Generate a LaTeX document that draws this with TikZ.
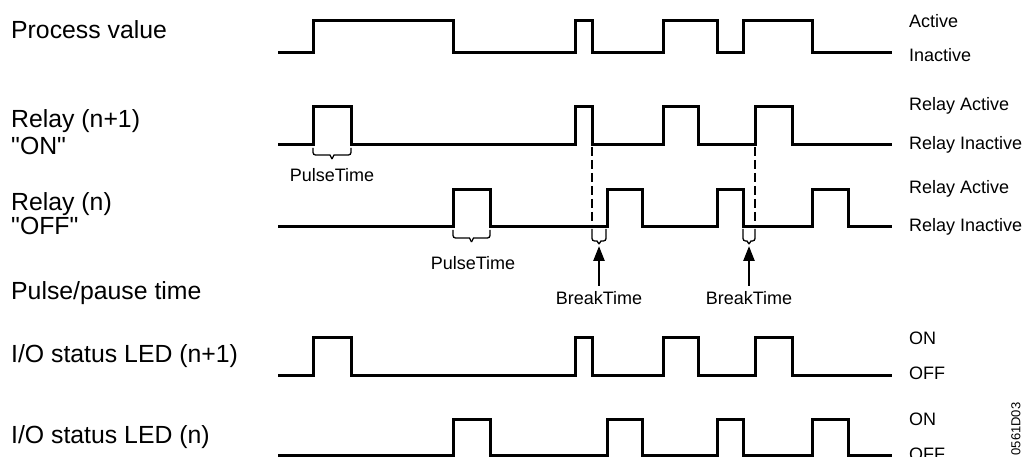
\documentclass[tikz,border=0pt]{standalone}
\usepackage{fontspec}
\setmainfont{Liberation Sans}[Ligatures=TeXOff]
\usetikzlibrary{arrows.meta}
\newcommand{\mybrace}[5]{% x1 x2 ytop ybot ytip
  \draw[bracestyle] (#1,#3) -- (#1,#4-2.5) to[out=-90,in=180] (#1+2.5,#4) -- ({(#1+#2)/2-2},#4) -- ({(#1+#2)/2},#5);
  \draw[bracestyle] (#2,#3) -- (#2,#4-2.5) to[out=-90,in=0] (#2-2.5,#4) -- ({(#1+#2)/2+2},#4) -- ({(#1+#2)/2},#5);
}
\begin{document}
\begin{tikzpicture}[x=1pt,y=-1pt,
  wave/.style={line width=3pt, line join=miter},
  dashline/.style={line width=2pt, dash pattern=on 9pt off 4pt},
  bracestyle/.style={line width=1.3pt},
  barrow/.style={line width=2.5pt, -{Triangle[length=15pt,width=11pt]}},
  leftlab/.style={anchor=west, inner sep=0pt, font=\fontsize{24.8}{27}\selectfont},
  rightlab/.style={anchor=west, inner sep=0pt, font=\fontsize{18}{20}\selectfont},
  smalllab/.style={inner sep=0pt, font=\fontsize{18}{20}\selectfont}]
\useasboundingbox (0,0) rectangle (1026,457);

% left labels
\node[leftlab] (lpv) at (11,30) {Process value};
\node[leftlab] (lr1) at (11,121) {Relay (n+1)};
\node[leftlab] (lr1b) at (11,146) {"ON"};
\node[leftlab] (lr0) at (11,204) {Relay (n)};
\node[leftlab] (lr0b) at (11,226) {"OFF"};
\node[leftlab] (lpp) at (11,293) {Pulse/pause time};
\node[leftlab] (lled1) at (11,356) {I/O status LED (n+1)};
\node[leftlab] (lled0) at (11,437) {I/O status LED (n)};

% right labels
\node[rightlab] (ra1) at (909,21) {Active};
\node[rightlab] (ri1) at (909,55) {Inactive};
\node[rightlab] (ra2) at (909,106) {Relay Active};
\node[rightlab] (ri2) at (909,145) {Relay Inactive};
\node[rightlab] (ra3) at (909,189) {Relay Active};
\node[rightlab] (ri3) at (909,227) {Relay Inactive};
\node[rightlab] (ron1) at (909,338) {ON};
\node[rightlab] (roff1) at (909,373) {OFF};
\node[rightlab] (ron0) at (909,419) {ON};
\node[rightlab] (roff0) at (909,454) {OFF};
\node[rotate=90, inner sep=0pt, font=\fontsize{13}{14}\selectfont] (code) at (1016,429) {0561D03};

% waveforms
\draw[wave] (278,53) -| (313,21) -| (453,53) -| (575,21) -| (592,53) -| (663,21) -| (717,53) -| (743,21) -| (812,53) -- (892,53);
\draw[wave] (278,145) -| (313,107) -| (351,145) -| (575,107) -| (592,145) -| (663,107) -| (698,145) -| (755,107) -| (792,145) -- (892,145);
\draw[wave] (278,227) -| (453,190) -| (490,227) -| (607,190) -| (642,227) -| (717,190) -| (743,227) -| (812,190) -| (848,227) -- (892,227);
\draw[wave] (278,375) -| (313,337) -| (351,375) -| (575,337) -| (592,375) -| (663,337) -| (698,375) -| (755,337) -| (792,375) -- (892,375);
\draw[wave] (278,455) -| (453,419) -| (490,455) -| (607,419) -| (642,455) -| (717,419) -| (743,455) -| (812,419) -| (848,455) -- (892,455);

% dashed lines
\draw[dashline] (592,147) -- (592,227);
\draw[dashline] (755,147) -- (755,227);

% braces
\mybrace{313}{351}{148}{155}{159}
\mybrace{453}{490}{230}{238}{242}
\mybrace{592}{606}{229}{241}{244}
\mybrace{743}{755}{229}{241}{244}

% brace labels
\node[smalllab] (pt1) at (332,175) {PulseTime};
\node[smalllab] (pt2) at (473,263) {PulseTime};
\node[smalllab] (bt1) at (599,298) {BreakTime};
\node[smalllab] (bt2) at (749,298) {BreakTime};
\coordinate (bt1s) at (599,286);
\coordinate (bt2s) at (749,286);
\coordinate (bt1e) at (599,246);
\coordinate (bt2e) at (749,246);
\draw[barrow] (bt1s) -- (bt1e);
\draw[barrow] (bt2s) -- (bt2e);
\end{tikzpicture}
\end{document}
